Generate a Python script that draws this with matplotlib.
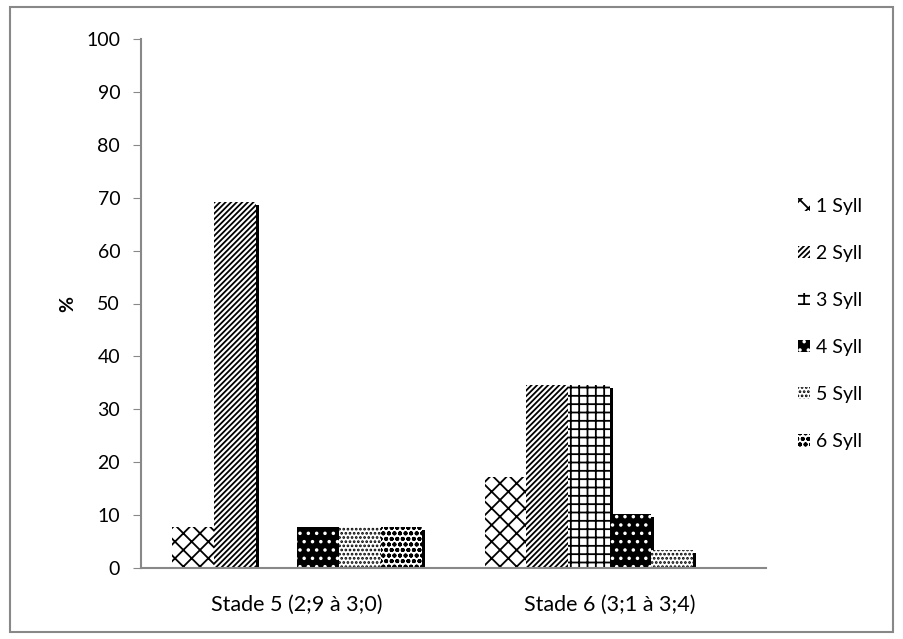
import matplotlib
matplotlib.use("Agg")
import matplotlib.pyplot as plt
from matplotlib.patches import Rectangle
from matplotlib.transforms import offset_copy
import numpy as np

categories = ["Stade 5 (2;9 à 3;0)", "Stade 6 (3;1 à 3;4)"]
series = ["1 Syll", "2 Syll", "3 Syll", "4 Syll", "5 Syll", "6 Syll"]
syll1 = [7.7, 17.2]
syll2 = [69.2, 34.5]
syll3 = [0.0, 34.5]
syll4 = [7.7, 10.3]
syll5 = [7.7, 3.4]
syll6 = [7.7, 0.0]
values = [syll1, syll2, syll3, syll4, syll5, syll6]
yticks = [0, 10, 20, 30, 40, 50, 60, 70, 80, 90, 100]

plt.rcParams['font.family'] = ['Lato', 'DejaVu Sans']
plt.rcParams['hatch.linewidth'] = 1.3

styles = [
    dict(facecolor='white', edgecolor='black', hatch='xx'),
    dict(facecolor='white', edgecolor='black', hatch='//////'),
    dict(facecolor='white', edgecolor='black', hatch='++'),
    dict(facecolor='black', edgecolor='white', hatch='..'),
    dict(facecolor='white', edgecolor='black', hatch='....'),
    dict(facecolor='white', edgecolor='black', hatch='ooo'),
]

W, H = 904, 639
fig = plt.figure(figsize=(W / 100, H / 100), dpi=100)
ax = fig.add_axes([141 / W, 1 - 568 / H, (766 - 141) / W, (568 - 39) / H])

x = np.arange(len(categories))
n = len(series)
width = 0.8 / n
shadow_tr = offset_copy(ax.transData, fig=fig, x=3, y=-3, units='dots')
for i, (name, vals) in enumerate(zip(series, values)):
    offs = (i - (n - 1) / 2) * width
    ax.bar(x + offs, vals, width, color='black', linewidth=0, transform=shadow_tr, zorder=1)
    ax.bar(x + offs, vals, width, linewidth=0, label=name, zorder=2, **styles[i])

ax.set_xlim(-0.5, 1.5)
ax.set_ylim(0, 100)
ax.set_yticks(yticks)
ax.set_xticks(x)
ax.set_xticklabels(categories, fontsize=15.5)
ax.tick_params(axis='x', length=0, pad=19)
ax.tick_params(axis='y', length=6, color='#888888', labelsize=14, pad=9)
for s in ['top', 'right']:
    ax.spines[s].set_visible(False)
for s in ['left', 'bottom']:
    ax.spines[s].set_color('#888888')
    ax.spines[s].set_linewidth(1.5)
    ax.spines[s].set_zorder(5)
ax.set_ylabel('%', fontsize=14, fontweight='bold', labelpad=7)

ax.legend(loc='upper left', bbox_to_anchor=(781 / W, 1 - 180 / H), bbox_transform=fig.transFigure,
          frameon=False, fontsize=14, handlelength=0.6, handleheight=0.6,
          labelspacing=1.55, handletextpad=0.3)

fig.patches.append(Rectangle((10 / W, 7 / H), 883 / W, 625 / H, transform=fig.transFigure,
                             fill=False, edgecolor='#888888', linewidth=1.5))

fig.savefig('out.png', dpi=100)
